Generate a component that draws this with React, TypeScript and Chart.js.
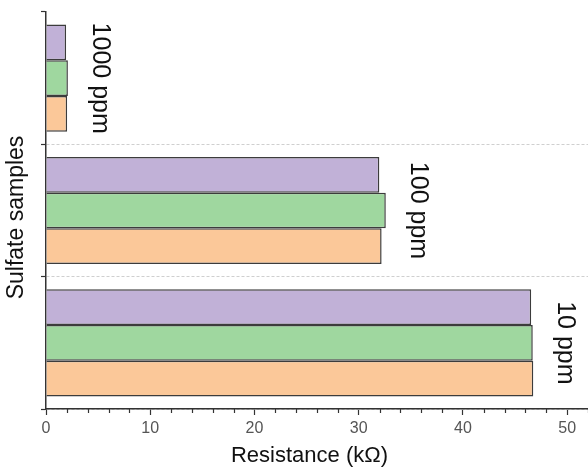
import React, { useEffect, useRef } from 'react';
import { Chart, registerables } from 'chart.js';

Chart.register(...registerables);

const categories = ['1000 ppm', '100 ppm', '10 ppm'];
const seriesNames = ['Sample 1', 'Sample 2', 'Sample 3'];
const purpleValues = [1.93, 31.98, 46.55];
const greenValues = [2.1, 32.6, 46.7];
const orangeValues = [2.03, 32.2, 46.75];
const xMin = 0;
const xMax = 52;
const xMajorStep = 10;
const xMinorStep = 2;
const xTitle = 'Resistance (kΩ)';
const yTitle = 'Sulfate samples';

const FONT = '"Liberation Sans", Arial, sans-serif';

const annotatePlugin = {
  id: 'annotate',
  afterDraw(chart: any) {
    const { ctx, chartArea, scales } = chart;
    const xs = scales.x;
    const ys = scales.y;
    ctx.save();
    // minor ticks on the x axis
    ctx.strokeStyle = '#333';
    ctx.lineWidth = 1.2;
    for (let v = xMin; v <= xs.max; v += xMinorStep) {
      if (v % xMajorStep === 0) continue;
      const px = Math.round(xs.getPixelForValue(v)) + 0.5;
      ctx.beginPath();
      ctx.moveTo(px, chartArea.bottom);
      ctx.lineTo(px, chartArea.bottom + 4);
      ctx.stroke();
    }
    // category labels, rotated, right of the longest bar
    ctx.fillStyle = '#111';
    ctx.font = `25px ${FONT}`;
    ctx.textAlign = 'center';
    ctx.textBaseline = 'middle';
    categories.forEach((c, i) => {
      const maxV = Math.max(purpleValues[i], greenValues[i], orangeValues[i]);
      const px = xs.getPixelForValue(maxV) + 32;
      const py = ys.getPixelForValue(i);
      ctx.save();
      ctx.translate(px, py);
      ctx.rotate(Math.PI / 2);
      ctx.fillText(c, 0, 0);
      ctx.restore();
    });
    // y title
    ctx.save();
    ctx.translate(17, (chartArea.top + chartArea.bottom) / 2 + 7);
    ctx.rotate(-Math.PI / 2);
    ctx.font = `23px ${FONT}`;
    ctx.fillText(yTitle, 0, 0);
    ctx.restore();
    // x title
    ctx.font = `22px ${FONT}`;
    ctx.textBaseline = 'alphabetic';
    ctx.fillText(xTitle, (chartArea.left + chartArea.right) / 2 - 7.5, 462);
    ctx.restore();
  },
};

export default function App() {
  const canvasRef = useRef<HTMLCanvasElement | null>(null);

  useEffect(() => {
    if (!canvasRef.current) return;
    const chart = new Chart(canvasRef.current, {
      type: 'bar',
      data: {
        labels: categories,
        datasets: [
          { label: seriesNames[0], data: purpleValues, backgroundColor: '#c1b1d7', borderColor: '#3c3c3c', borderWidth: 1.5 },
          { label: seriesNames[1], data: greenValues, backgroundColor: '#9fd79f', borderColor: '#3c3c3c', borderWidth: 1.5 },
          { label: seriesNames[2], data: orangeValues, backgroundColor: '#fbc899', borderColor: '#3c3c3c', borderWidth: 1.5 },
        ],
      },
      options: {
        indexAxis: 'y',
        animation: false,
        responsive: false,
        maintainAspectRatio: false,
        layout: { padding: { top: 12, left: 0, right: 0, bottom: 0 } },
        datasets: { bar: { categoryPercentage: 0.81, barPercentage: 1.0 } },
        plugins: { legend: { display: false }, tooltip: { enabled: false } },
        scales: {
          x: {
            type: 'linear',
            min: xMin,
            max: xMax,
            ticks: {
              stepSize: xMajorStep,
              includeBounds: false,
              color: '#555',
              font: { size: 16, family: FONT },
              padding: 4,
            },
            grid: { drawOnChartArea: false, tickLength: 6, tickColor: '#333', tickWidth: 1.2 },
            border: { color: '#333', width: 1.5 },
            afterFit(scale: any) { scale.height = 60; },
          },
          y: {
            type: 'category',
            offset: true,
            ticks: { display: false },
            grid: {
              offset: true,
              color: (c: any) => (c.index === 0 || c.index === categories.length ? 'rgba(0,0,0,0)' : '#cfcfcf'),
              lineWidth: 1,
              tickColor: '#333',
              tickLength: 5,
              tickWidth: 1.2,
            },
            border: { color: '#333', width: 1.5, dash: [3, 2] },
            afterFit(scale: any) { scale.width = 46; },
          },
        },
      },
      plugins: [annotatePlugin],
    } as any);
    return () => chart.destroy();
  }, []);

  return (
    <div style={{ position: 'fixed', left: 0, top: 0, width: 588, height: 469, background: '#fff' }}>
      <canvas ref={canvasRef} width={588} height={469} style={{ display: 'block' }} />
    </div>
  );
}
